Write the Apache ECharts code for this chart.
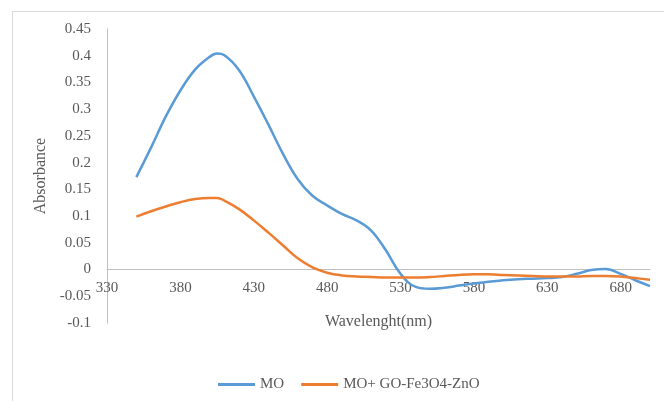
<!DOCTYPE html>
<html>
<head>
<meta charset="utf-8">
<script src="https://cdn.jsdelivr.net/npm/echarts@6/dist/echarts.min.js"></script>
<style>
    html, body { margin: 0; padding: 0; background: #fff; }
    #chart { width: 664px; height: 401px; }
</style>
</head>
<body>
<div id="chart"></div>
<script>
    // wavelength (nm) of each reading
    const wavelength = [350, 360, 370, 380, 390, 400, 405, 410, 420, 430, 440, 450, 460, 470, 480, 490, 500,
        510, 520, 530, 540, 550, 560, 570, 580, 590, 600, 610, 620, 630, 640, 650, 660, 670, 680, 690, 700];
    const moValues = [0.173, 0.228, 0.286, 0.335, 0.374, 0.398, 0.404, 0.401, 0.373, 0.324, 0.271, 0.216, 0.169, 0.138, 0.12, 0.104, 0.092,
        0.073, 0.036, -0.008, -0.032, -0.036, -0.034, -0.03, -0.026, -0.023, -0.02, -0.018, -0.017, -0.016, -0.014, -0.008, -0.001, 0.001, -0.008, -0.02, -0.031];
    const compositeValues = [0.099, 0.109, 0.118, 0.126, 0.132, 0.134, 0.134, 0.129, 0.113, 0.092, 0.069, 0.045, 0.021, 0.004, -0.006, -0.011, -0.013,
        -0.014, -0.015, -0.015, -0.015, -0.014, -0.012, -0.01, -0.009, -0.009, -0.01, -0.011, -0.012, -0.013, -0.013, -0.013, -0.012, -0.012, -0.013, -0.016, -0.019];
    const seriesNames = ['MO', 'MO+ GO-Fe3O4-ZnO'];

    const toPairs = (vals) => wavelength.map((w, i) => [w, vals[i]]);

    const textStyle = {fontFamily: 'Liberation Serif', fontSize: 15, color: '#595959'};
    const myChart = echarts.init(document.getElementById('chart'));
    const option = {
        color: ['#5B9BD5', '#ED7D31'],
        animation: false,
        textStyle: textStyle,
        graphic: [{
            type: 'rect',
            left: 10,
            top: 9,
            shape: {width: 700, height: 420},
            style: {fill: 'none', stroke: '#D9D9D9', lineWidth: 1}
        }],
        grid: {left: 107, right: 14, top: 29, bottom: 78},
        legend: {
            data: seriesNames,
            icon: 'rect',
            left: 213,
            top: 372,
            itemWidth: 37,
            itemHeight: 3,
            itemGap: 17,
            textStyle: textStyle
        },
        xAxis: {
            type: 'value',
            min: 330,
            max: 700,
            interval: 50,
            // axis sits on y = 0 (0.1 of 0.55 above the grid bottom)
            offset: -53.5,
            name: 'Wavelenght(nm)',
            nameLocation: 'middle',
            nameGap: 44,
            nameTextStyle: Object.assign({}, textStyle, {fontSize: 16}),
            axisLine: {onZero: false, lineStyle: {color: '#BFBFBF'}},
            axisTick: {show: false},
            axisLabel: Object.assign({margin: 11, showMaxLabel: false}, textStyle),
            splitLine: {show: false}
        },
        yAxis: {
            type: 'value',
            min: -0.1,
            max: 0.45,
            interval: 0.05,
            name: 'Absorbance',
            nameLocation: 'middle',
            nameGap: 53,
            nameTextStyle: Object.assign({}, textStyle, {fontSize: 16}),
            axisLine: {show: true, lineStyle: {color: '#BFBFBF'}},
            axisTick: {show: false},
            axisLabel: Object.assign({margin: 16}, textStyle),
            splitLine: {show: false}
        },
        series: [
            {
                name: seriesNames[0],
                type: 'line',
                smooth: 0.4,
                symbol: 'none',
                lineStyle: {width: 2.5},
                data: toPairs(moValues)
            },
            {
                name: seriesNames[1],
                type: 'line',
                smooth: 0.4,
                symbol: 'none',
                lineStyle: {width: 2.5},
                data: toPairs(compositeValues)
            }
        ]
    };
    myChart.setOption(option);
</script>
</body>
</html>
